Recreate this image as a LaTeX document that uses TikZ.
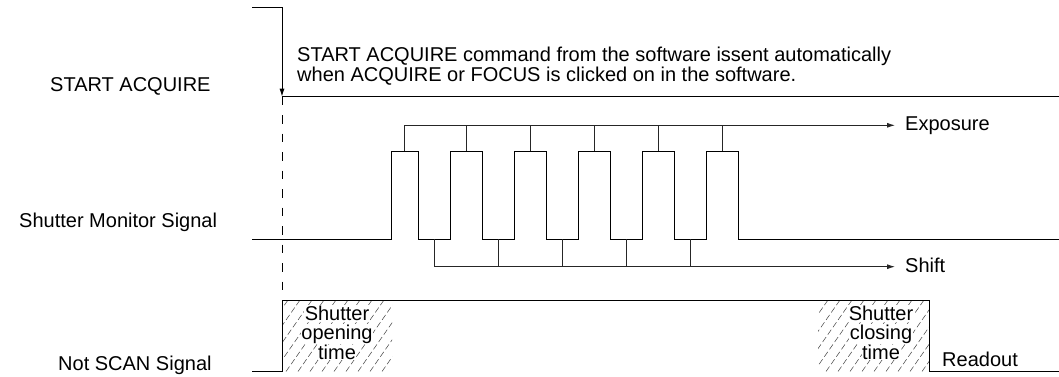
\documentclass[tikz,border=0pt]{standalone}
\usepackage{fontspec}
\setmainfont{Liberation Sans}
\usetikzlibrary{arrows.meta, positioning}

\newcommand{\wordbox}[1]{{\setlength{\fboxsep}{0.5pt}\colorbox{white}{#1}}}

\begin{document}
\begin{tikzpicture}[x=1pt, y=-1pt,
  sig/.style={line width=1pt},
  link/.style={line width=0.9pt, black!85},
  lbl/.style={font=\fontsize{20}{18}\selectfont, inner sep=0pt},
  hatchline/.style={line width=0.5pt, black!75, dash pattern=on 6pt off 3pt},
  tip/.style={-{Latex[length=8pt, width=5pt]}}
]
  \useasboundingbox (0,0) rectangle (1059,377);

  % signal names
  \node[lbl, anchor=base west] (acqname) at (50,91.5) {START ACQUIRE};
  \node[lbl, anchor=base west] (monname) at (19,227) {Shutter Monitor Signal};
  \node[lbl, anchor=base west] (scanname) at (58,370) {Not SCAN Signal};

  % START ACQUIRE
  \coordinate (acq) at (282,96.7);
  \draw[sig, tip] (252,7.5) -- (282,7.5) -- (acq);
  \draw[sig] (acq) -- (1059,96.7);
  \draw[line width=0.9pt, dash pattern=on 8.5pt off 10pt] (acq) -- (282,300);
  \node[lbl, anchor=south west, align=left, font=\fontsize{20}{17.5}\selectfont] (cmd) at (297,85)
    {START ACQUIRE command from the software issent automatically\\
     when ACQUIRE or FOCUS is clicked on in the software.};

  % shutter monitor
  \draw[sig] (252,239.3) -- (391.3,239.3) -- (391.3,151.3) -- (418.3,151.3) -- (418.3,239.3)
    foreach \x in {450,514,578,642,706} { -- (\x,239.3) -- (\x,151.3) -- (\x+32,151.3) -- (\x+32,239.3) }
    -- (1059,239.3);

  % exposure
  \coordinate (expend) at (895,125.3);
  \node[lbl, right=10pt of expend] (exposure) {Exposure};
  \draw[link, tip] (404.8,125.3) -- (expend);
  \foreach \x in {404.8,466,530,594,658,722}
    \draw[link] (\x,125.3) -- (\x,151.3);

  % shift
  \coordinate (shiftend) at (895,266.7);
  \node[lbl, right=10pt of shiftend, yshift=1.5pt] (shift) {Shift};
  \draw[link, tip] (434.3,266.7) -- (shiftend);
  \foreach \x in {434.3,498,562,626,690}
    \draw[link] (\x,239.3) -- (\x,266.7);

  % not scan
  \begin{scope}
    \clip (282,300) rectangle (392,371.5);
    \foreach \k in {226,238,...,400}
      \draw[hatchline] (\k,371.5) -- ++(50,-71.5);
  \end{scope}
  \begin{scope}
    \clip (818,300) rectangle (929,371.5);
    \foreach \k in {766,778,...,940}
      \draw[hatchline] (\k,371.5) -- ++(50,-71.5);
  \end{scope}
  \draw[sig] (252,371.5) -- (282,371.5) -- (282,300) -- (929,300) -- (929,371.5) -- (1059,371.5);

  \node[lbl, align=center, font=\fontsize{20}{19}\selectfont] (opening) at (337,332.7)
    {\wordbox{Shutter}\\\wordbox{opening}\\\wordbox{time}};
  \node[lbl, align=center, font=\fontsize{20}{19}\selectfont] (closing) at (881,332.7)
    {\wordbox{Shutter}\\\wordbox{closing}\\\wordbox{time}};
  \node[lbl, anchor=base west] (readout) at (942,366) {Readout};
\end{tikzpicture}
\end{document}
